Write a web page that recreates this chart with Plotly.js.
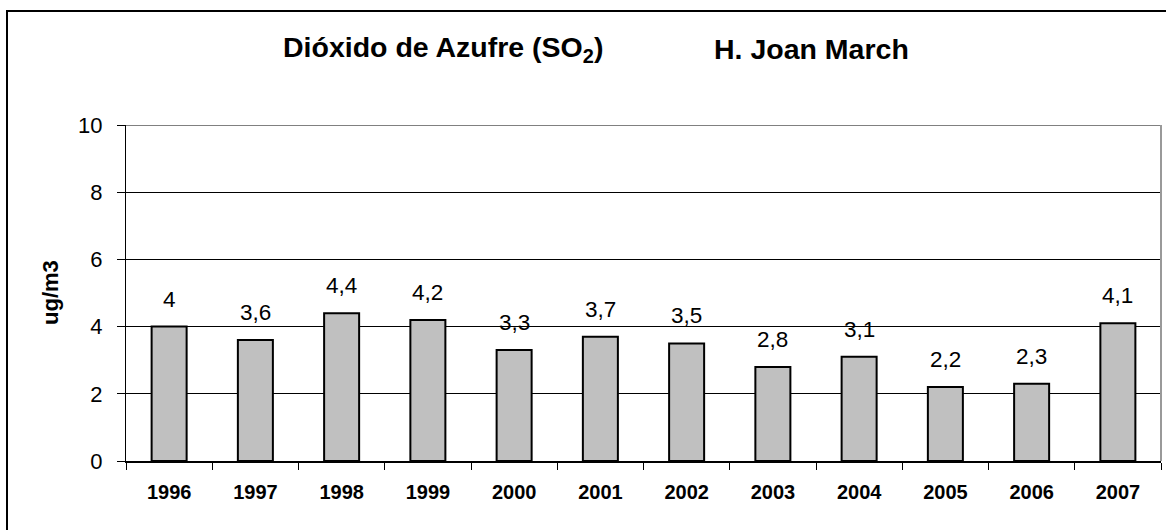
<!DOCTYPE html>
<html>
<head>
<meta charset="utf-8">
<script src="https://cdn.plot.ly/plotly-3.0.1.min.js"></script>
<style>
html,body{margin:0;padding:0;background:#fff;}
#chart{width:1166px;height:530px;}
</style>
</head>
<body>
<div id="chart"></div>
<script>
var years = ['1996','1997','1998','1999','2000','2001','2002','2003','2004','2005','2006','2007'];
var values = [4, 3.6, 4.4, 4.2, 3.3, 3.7, 3.5, 2.8, 3.1, 2.2, 2.3, 4.1];
var yTicks = [0, 2, 4, 6, 8, 10];
var titleLeft = 'Dióxido de Azufre (SO<sub>2</sub>)';
var titleRight = 'H. Joan March';
var yTitle = 'ug/m3';

var FONT = 'Liberation Sans, Arial, sans-serif';
var L = 126, R = 5, T = 125, B = 69, W = 1166, H = 530;
var pw = W - L - R, ph = H - T - B;
function px2x(p){ return (p - L) / pw; }
function py2y(p){ return (H - B - p) / ph; }

var trace = {
  type: 'bar',
  x: years,
  y: values,
  marker: {color: '#C0C0C0', line: {color: '#000', width: 2}},
  hoverinfo: 'none'
};

var annotations = years.map(function(yr, i){
  return {
    x: i, y: values[i], xref: 'x', yref: 'y',
    text: String(values[i]).replace('.', ','),
    showarrow: false, yanchor: 'bottom', yshift: 13,
    font: {family: FONT, size: 22.5, color: '#000'}
  };
});
annotations.push({
  xref: 'paper', yref: 'paper', x: px2x(281), y: py2y(49),
  xanchor: 'left', yanchor: 'middle', showarrow: false,
  text: titleLeft, font: {family: FONT, size: 28.5, color: '#000', weight: 'bold'}
});
annotations.push({
  xref: 'paper', yref: 'paper', x: px2x(712), y: py2y(49),
  xanchor: 'left', yanchor: 'middle', showarrow: false,
  text: titleRight, font: {family: FONT, size: 28.5, color: '#000', weight: 'bold'}
});
annotations.push({
  xref: 'paper', yref: 'paper', x: px2x(50), y: 0.5,
  xanchor: 'center', yanchor: 'middle', showarrow: false, textangle: -90,
  text: yTitle, font: {family: FONT, size: 22, color: '#000', weight: 'bold'}
});

var shapes = [
  {type: 'rect', xref: 'paper', yref: 'paper', x0: px2x(7), x1: px2x(1180), y0: py2y(545), y1: py2y(11),
   line: {color: '#000', width: 2}, fillcolor: 'rgba(0,0,0,0)', layer: 'below'},
  {type: 'line', xref: 'paper', yref: 'y', x0: 0, x1: 1, y0: 10, y1: 10,
   line: {color: '#808080', width: 2}, layer: 'above'},
  {type: 'line', xref: 'paper', yref: 'y', x0: 1, x1: 1, y0: 0, y1: 10,
   line: {color: '#999999', width: 2}, layer: 'above'}
];

var layout = {
  width: W, height: H,
  margin: {l: L, r: R, t: T, b: B, pad: 0},
  paper_bgcolor: '#fff', plot_bgcolor: '#fff',
  showlegend: false,
  bargap: 0.594,
  xaxis: {
    type: 'category',
    range: [-0.5, years.length - 0.5],
    showline: true, linecolor: '#000', linewidth: 2,
    ticks: 'outside', tickson: 'boundaries', ticklen: 7, tickcolor: '#000', tickwidth: 1,
    showgrid: false, zeroline: false,
    tickangle: 0,
    tickfont: {family: FONT, size: 20, color: '#000', weight: 'bold'},
    ticklabelstandoff: 12,
    fixedrange: true
  },
  yaxis: {
    range: [0, 10],
    tickvals: yTicks,
    ticktext: yTicks.map(String),
    showline: true, linecolor: '#000', linewidth: 1,
    ticks: 'outside', ticklen: 8, tickcolor: '#000', tickwidth: 1,
    showgrid: true, gridcolor: '#000', gridwidth: 1,
    zeroline: false,
    tickfont: {family: FONT, size: 22, color: '#000'},
    ticklabelstandoff: 10,
    fixedrange: true
  },
  annotations: annotations,
  shapes: shapes
};

Plotly.newPlot('chart', [trace], layout, {staticPlot: true, displayModeBar: false});
</script>
</body>
</html>
